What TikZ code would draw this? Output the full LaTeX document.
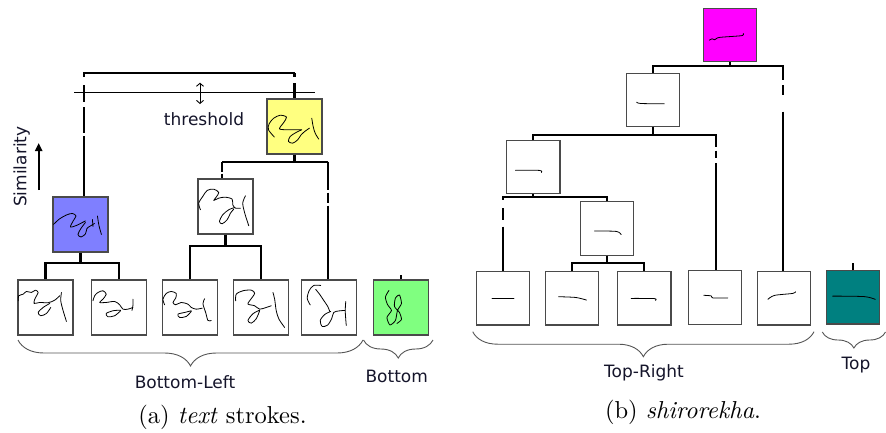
\documentclass[tikz,border=0pt]{standalone}
\usepackage{fontspec}
\newfontfamily\lblfont{DejaVu Sans}
\usetikzlibrary{arrows.meta,decorations.pathreplacing}
\definecolor{boxgray}{HTML}{4A4A4A}
\definecolor{lblcol}{HTML}{14142A}
\definecolor{bluefill}{HTML}{7F7FFF}
\definecolor{yelfill}{HTML}{FFFF80}
\definecolor{grnfill}{HTML}{80FF80}
\definecolor{magfill}{HTML}{FF00FF}
\definecolor{tealfill}{HTML}{008080}
\definecolor{bracecol}{HTML}{555555}
\begin{document}
\begin{tikzpicture}[x=1pt,y=-1pt,
  sbox/.style={draw=boxgray, line width=1.1pt, minimum width=55pt, minimum height=55pt, inner sep=0pt, fill=white},
  rbox/.style={sbox, minimum width=53.3pt, minimum height=53.3pt},
  conn/.style={line width=2.2pt, black},
  ink/.style={line width=0.8pt, black, line join=round, line cap=round},
  lbl/.style={font=\lblfont\fontsize{17}{20}\selectfont, text=lblcol, inner sep=0pt},
  captxt/.style={font=\rmfamily\fontsize{10}{12}\selectfont, scale=2.45, inner sep=0pt},
  brc/.style={draw=bracecol, line width=0.9pt, decorate}]
\useasboundingbox (0,0) rectangle (886,432);

% ---------------- left panel: text strokes ----------------
\node[sbox, fill=bluefill] (blue) at (80.5,224.5) {};
\node[sbox, fill=yelfill] (yellow) at (294.5,126.5) {};
\node[sbox] (white) at (225.5,206.5) {};
\node[sbox] (L1) at (45.5,307.5) {};
\node[sbox] (L2) at (119,307.5) {};
\node[sbox] (L3) at (190,307.5) {};
\node[sbox] (L4) at (261,307.5) {};
\node[sbox] (L5) at (328.8,307.5) {};
\node[sbox, fill=grnfill] (green) at (401,307.5) {};

% scribbles
\begin{scope}[shift={(blue.north west)}]
\draw[ink] plot[smooth,tension=0.5] coordinates {(1,28) (7,22.5) (14,18.5) (20,17) (23.5,19.5) (21,24) (18,30.5) (24,29) (30,26) (33,24.5)};
\draw[ink] plot[smooth,tension=0.5] coordinates {(33,26) (28.5,32) (25.5,38) (28.5,40.5) (33,37.5) (34.5,32) (38,29.5) (42,27)};
\draw[ink] (40,23) -- (40.5,30);
\draw[ink] plot[smooth,tension=0.5] coordinates {(45,19.5) (46.5,29) (49,38)};
\end{scope}
\begin{scope}[shift={(yellow.north west)}]
\draw[ink] plot[smooth,tension=0.5] coordinates {(8,38.7) (2,31.3) (2.7,25.3) (7.3,19.7) (14,16.7) (20,18.7) (17.3,24) (13,30.3) (19.7,31.3) (27.3,31.3) (34.7,31.3)};
\draw[ink] plot[smooth,tension=0.5] coordinates {(35.3,31.3) (29.7,34) (23.7,38) (22,43) (26.3,44.7) (31.3,41.3) (34.7,36.3) (38.7,32.7) (43,29.7)};
\draw[ink] plot[smooth,tension=0.5] coordinates {(45.3,19.7) (46.7,28) (48.7,34.7) (52.3,40.7)};
\end{scope}
\begin{scope}[shift={(white.north west)}]
\draw[ink] plot[smooth,tension=0.5] coordinates {(3,31.3) (1.3,24.7) (5.3,18) (9.7,12) (16.3,10.7) (21.3,14) (18.7,18.7) (16.3,22) (21.3,19.7) (28,18.7) (34.7,20.7) (35.3,26.3) (38,29.7) (43,29.7)};
\draw[ink] plot[smooth,tension=0.5] coordinates {(37.3,29) (31.3,31.3) (25.3,36.3) (22,43) (24.7,45.3) (29.7,41.3) (33,34.7) (36.3,30.7)};
\draw[ink] plot[smooth,tension=0.5] coordinates {(48,17.3) (45.3,24.7) (47.3,34.7) (51.3,47.3)};
\end{scope}
\begin{scope}[shift={(L1.north west)}]
\draw[ink] plot[smooth,tension=0.4] coordinates {(0.7,21.3) (1.3,16.3) (5.7,14.7) (9,12) (14,13) (18,10.7) (20.7,13) (17.3,19.7) (16.7,24) (22.3,23) (30.7,23.3) (37.3,20.7) (42.3,16.3)};
\draw[ink] plot[smooth,tension=0.5] coordinates {(32.3,24) (25.7,28) (20.7,33) (23.3,36.3) (29,34) (33.3,28)};
\draw[ink] plot[smooth,tension=0.5] coordinates {(44,13) (43.3,21.3) (45.7,31.3) (49,42)};
\end{scope}
\begin{scope}[shift={(L2.north west)}]
\draw[ink] plot[smooth,tension=0.5] coordinates {(2,21.3) (3.7,16.3) (7,13) (12,11.3) (15.3,14.7) (12,19.7) (8.7,23) (15.3,23) (23.7,22) (28.7,25.3) (32,29.7) (37,29.7) (42,28)};
\draw[ink] plot[smooth,tension=0.5] coordinates {(29.7,30.7) (22,31.3) (15.3,34) (17,37.3) (23.7,36.3) (29.7,31.3)};
\draw[ink] plot[smooth,tension=0.5] coordinates {(42,19.7) (42,26) (41,31)};
\end{scope}
\begin{scope}[shift={(L3.north west)}]
\draw[ink] plot[smooth,tension=0.5] coordinates {(2.7,25.3) (1,19.7) (4.3,14) (9.3,12) (14.3,14) (13.7,18.7) (11,23) (13.7,25.3) (19.3,23) (26,24.7) (29.3,28) (34.3,29.7) (40.3,28.7)};
\draw[ink] plot[smooth,tension=0.5] coordinates {(29.3,31.3) (22.7,33) (16,34.7) (17.7,38) (24.3,37) (29.3,32)};
\draw[ink] plot[smooth,tension=0.5] coordinates {(42.7,19.3) (41,24.3) (43.7,33) (46,41) (49.3,41)};
\end{scope}
\begin{scope}[shift={(L4.north west)}]
\draw[ink] plot[smooth,tension=0.5] coordinates {(2.7,21.3) (3.3,14.7) (10,11.3) (18.3,10.7) (21.7,14) (16.7,21.3) (15,24.7) (21.7,26.3) (26.7,29.7) (33.3,28) (38.3,26.3)};
\draw[ink] plot[smooth,tension=0.5] coordinates {(26.7,30.7) (20,34.3) (15,41) (18.3,43.7) (23.3,39.3) (26.7,31.3)};
\draw[ink] plot[smooth,tension=0.5] coordinates {(40,13) (41.7,19.7) (43.3,31.3) (46,39.7) (51.7,48)};
\end{scope}
\begin{scope}[shift={(L5.north west)}]
\draw[ink] plot[smooth,tension=0.5] coordinates {(20,6) (13,6) (8.5,11) (6.5,19) (9.5,25.5)};
\draw[ink] plot[smooth,tension=0.5] coordinates {(15,10) (19,15) (23,21) (27,27) (29,32)};
\draw[ink] plot[smooth,tension=0.5] coordinates {(30,32) (24,35) (19.5,41) (21.5,47) (27,45.5) (31,39) (33,33) (38,31.5) (44,31)};
\draw[ink] plot[smooth,tension=0.5] coordinates {(45,22) (44.5,32) (45.5,46)};
\end{scope}
\begin{scope}[shift={(green.north west)}]
\draw[ink] plot[smooth,tension=0.4] coordinates {(16,11) (12.5,17.5) (14.5,25) (18.5,31) (14,38) (17,45.5) (22.5,41) (24.5,31) (28.5,24) (26.5,15.5) (22.5,18.5) (21.5,27) (26.5,33) (28.5,40) (24,44)};
\end{scope}

% connectors
\coordinate (tl) at (84,73.3);
\coordinate (tr) at (294.5,73.3);
\draw[conn] (tr) -- (tl) -- ++(0,4) ++(0,8) -- ++(0,17) ++(0,5) -- ++(0,26) ++(0,3) -- (tl |- blue.north);
\draw[conn] (tr) -- ++(0,4) ++(0,6) -- (yellow.north);
\coordinate (th1) at (74,92);
\coordinate (th2) at (315,92);
\draw[line width=0.8pt] (th1) -- (th2);
\coordinate (da1) at (200,82.7);
\coordinate (da2) at (200,104);
\draw[line width=0.9pt, {Straight Barb[length=3pt,width=7pt]}-{Straight Barb[length=3pt,width=7pt]}] (da1) -- (da2);
\node[lbl] (thr) at (204,118.7) {threshold};
\node[lbl, rotate=90] (sim) at (21.7,166.7) {Similarity};
\coordinate (sa1) at (38.7,190);
\coordinate (sa2) at (38.7,143);
\draw[line width=2pt, -{Triangle[length=8pt,width=7pt]}] (sa1) -- (sa2);

\coordinate (yb) at (294.5,161.7);
\coordinate (yl) at (222,161.7);
\coordinate (yr) at (328,161.7);
\draw[conn] (yellow.south) -- (yb);
\draw[conn] (yl) -- (yr);
\draw[conn] (yl) -- ++(0,10) ++(0,2) -- (yl |- white.north);
\draw[conn] (yr) -- ++(0,28) ++(0,3) -- ++(0,10) ++(0,3) -- (yr |- L5.north);

\coordinate (jb) at (80.5,262.7);
\draw[conn] (blue.south) -- (jb);
\draw[conn] (L1.north) -- (L1.north |- jb) -- (L2.north |- jb) -- (L2.north);
\coordinate (wb) at (225.5,246);
\draw[conn] (white.south) -- (wb);
\draw[conn] (L3.north) -- (L3.north |- wb) -- (L4.north |- wb) -- (L4.north);
\draw[conn] (green.north) -- ++(0,-4.3);

% braces & labels
\coordinate (bl1) at (18,340);
\coordinate (bl2) at (363,340);
\draw[brc, decoration={brace, mirror, amplitude=26pt}] (bl1) -- (bl2);
\node[lbl] (lbl1) at (185,381.7) {Bottom-Left};
\coordinate (bb1) at (363.5,340);
\coordinate (bb2) at (433,340);
\draw[brc, decoration={brace, mirror, amplitude=18pt}] (bb1) -- (bb2);
\node[lbl] (lbl2) at (396.7,376.7) {Bottom};
\node[captxt] (capa) at (222.5,417) {(a) \textit{text} strokes.};

% ---------------- right panel: shirorekha ----------------
\node[rbox, fill=magfill] (mag) at (729.8,35) {};
\node[rbox] (b2) at (652.8,99.7) {};
\node[rbox] (b3) at (533.3,167.2) {};
\node[rbox] (b4) at (607,228.5) {};
\node[rbox] (R1) at (503.2,298.3) {};
\node[rbox] (R2) at (571.8,298.3) {};
\node[rbox] (R3) at (644.3,298.3) {};
\node[rbox] (R4) at (715,297.5) {};
\node[rbox] (R5) at (783.7,298.3) {};
\node[rbox, fill=tealfill] (teal) at (853.2,297.3) {};

\begin{scope}[shift={(mag.north west)}]
\draw[ink] plot[smooth,tension=0.5] coordinates {(6.7,32.4) (9.5,31) (12,32) (15,30) (20,29.3) (30,28.6) (40,27.7) (40.7,25.8)};
\end{scope}
\begin{scope}[shift={(b2.north west)}]
\draw[ink] plot[smooth,tension=0.5] coordinates {(11,29.7) (15.4,31) (38.7,31.3)};
\end{scope}
\begin{scope}[shift={(b3.north west)}]
\draw[ink] plot[smooth,tension=0.5] coordinates {(9.3,30.3) (33.3,30.4) (35.3,32.4)};
\end{scope}
\begin{scope}[shift={(b4.north west)}]
\draw[ink] plot[smooth,tension=0.5] coordinates {(14.7,29.7) (36.4,30.1) (41.4,33.3)};
\end{scope}
\begin{scope}[shift={(R1.north west)}]
\draw[ink] (16,27.3) -- (38,27.3);
\end{scope}
\begin{scope}[shift={(R2.north west)}]
\draw[ink] plot[smooth,tension=0.5] coordinates {(14,25.6) (31.4,26.4) (42,29)};
\end{scope}
\begin{scope}[shift={(R3.north west)}]
\draw[ink] plot[smooth,tension=0.5] coordinates {(14,27.3) (37.3,27.5) (38.3,29.3)};
\end{scope}
\begin{scope}[shift={(R4.north west)}]
\draw[ink] plot[smooth,tension=0.5] coordinates {(16,25) (23.4,25.6) (25,27.6) (40,27.6)};
\end{scope}
\begin{scope}[shift={(R5.north west)}]
\draw[ink] plot[smooth,tension=0.5] coordinates {(11.3,28.3) (18,24.3) (36.3,22.3) (39,20.6)};
\end{scope}
\begin{scope}[shift={(teal.north west)}]
\draw[ink] plot[smooth,tension=0.5] coordinates {(6.6,26) (38.3,26.5) (49.3,29.3)};
\end{scope}

\coordinate (mj) at (730.7,66);
\coordinate (mL) at (652.7,66);
\coordinate (mR) at (783.3,66);
\draw[conn] (mag.south) -- (mag.south |- mj);
\draw[conn] (mL |- b2.north) -- (mL) -- (mR) -- ++(0,14) ++(0,5) -- ++(0,10) ++(0,16.7) -- (mR |- R5.north);
\coordinate (cj) at (653.7,135);
\coordinate (cL) at (533,135);
\coordinate (cR) at (716,135);
\draw[conn] (b2.south) -- (b2.south |- cj);
\draw[conn] (cL |- b3.north) -- (cL) -- (cR) -- ++(0,11.7) ++(0,4) -- ++(0,7.6) ++(0,5) -- (cR |- R4.north);
\coordinate (dj) at (533.3,197.3);
\coordinate (dL) at (503,197.3);
\coordinate (dR) at (607.3,197.3);
\draw[conn] (b3.south) -- (dj);
\draw[conn] (dR |- b4.north) -- (dR) -- (dL) -- ++(0,2.7) ++(0,8.3) -- ++(0,11.7) ++(0,6.7) -- (dL |- R1.north);
\coordinate (ej) at (607,262.7);
\draw[conn] (b4.south) -- (ej);
\draw[conn] (R2.north) -- (R2.north |- ej) -- (R3.north |- ej) -- (R3.north);
\draw[conn] (teal.north) -- ++(0,-6.7);

\coordinate (tb1) at (472.7,331.7);
\coordinate (tb2) at (814,331.7);
\draw[brc, decoration={brace, mirror, amplitude=25pt}] (tb1) -- (tb2);
\node[lbl] (lbl3) at (644,373.3) {Top-Right};
\coordinate (tt1) at (822.3,332);
\coordinate (tt2) at (885.5,332);
\draw[brc, decoration={brace, mirror, amplitude=16pt}] (tt1) -- (tt2);
\node[lbl] (lbl4) at (856,365) {Top};
\node[captxt] (capb) at (683,412) {(b) \textit{shirorekha}.};
\end{tikzpicture}
\end{document}
